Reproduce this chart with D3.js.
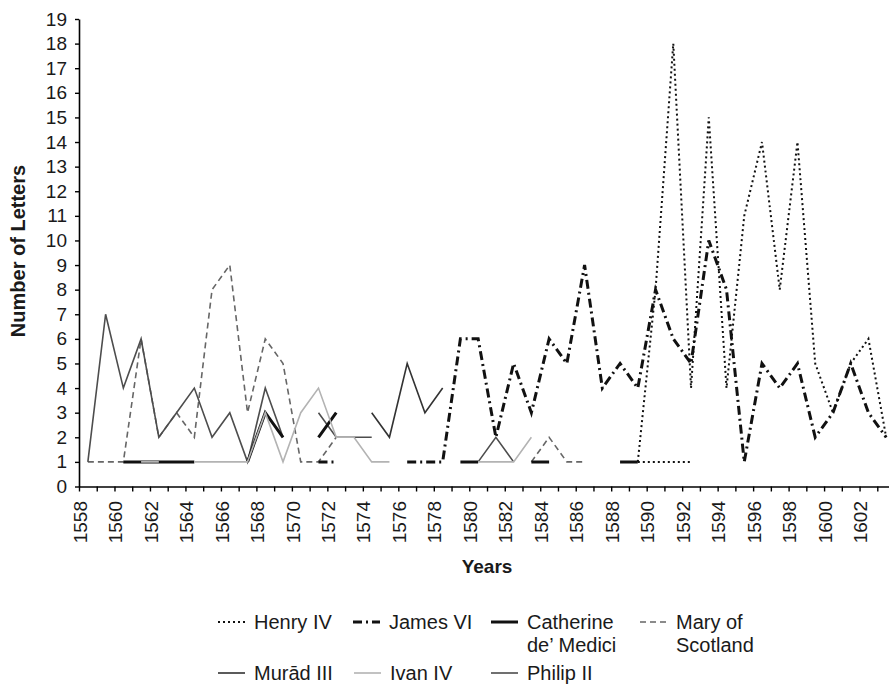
<!DOCTYPE html>
<html>
<head>
<meta charset="utf-8">
<script src="https://cdn.jsdelivr.net/npm/d3@7"></script>
<style>
  body { margin: 0; background: #fff; }
  text { font-family: "Liberation Sans", Arial, sans-serif; fill: #1a1a1a; }
</style>
</head>
<body>
<svg width="889" height="691"></svg>
<script>
const _ = null;

const years = [
  1558, 1559, 1560, 1561, 1562, 1563, 1564, 1565, 1566, 1567,
  1568, 1569, 1570, 1571, 1572, 1573, 1574, 1575, 1576, 1577,
  1578, 1579, 1580, 1581, 1582, 1583, 1584, 1585, 1586, 1587,
  1588, 1589, 1590, 1591, 1592, 1593, 1594, 1595, 1596, 1597,
  1598, 1599, 1600, 1601, 1602, 1603
];
const xTickLabels = [
  1558, 1560, 1562, 1564, 1566, 1568, 1570, 1572, 1574, 1576, 1578, 1580,
  1582, 1584, 1586, 1588, 1590, 1592, 1594, 1596, 1598, 1600, 1602
];
const yTicks = [0, 1, 2, 3, 4, 5, 6, 7, 8, 9, 10, 11, 12, 13, 14, 15, 16, 17, 18, 19];

// one value per year, 1558 .. 1603
const henryIV = [
  _, _, _, _, _, _, _, _, _, _,
  _, _, _, _, _, _, _, _, _, _,
  _, _, _, _, _, _, _, _, _, _,
  _, 1, 8, 18, 4, 15, 4, 11, 14, 8,
  14, 5, 3, 5, 6, 2
];
const henryIVLow = [
  _, _, _, _, _, _, _, _, _, _,
  _, _, _, _, _, _, _, _, _, _,
  _, _, _, _, _, _, _, _, _, _,
  _, 1, 1, 1, 1, _, _, _, _, _,
  _, _, _, _, _, _
];
const jamesVI = [
  _, _, _, _, _, _, _, _, _, _,
  _, _, _, 1, 1, _, _, _, 1, 1,
  1, 6, 6, 2, 5, 3, 6, 5, 9, 4,
  5, 4, 8, 6, 5, 10, 8, 1, 5, 4,
  5, 2, 3, 5, 3, 2
];
const catherine = [
  _, _, 1, 1, 1, 1, 1, _, _, 1,
  3, 2, _, 2, 3, _, _, _, _, _,
  _, 1, 1, _, _, 1, 1, _, _, _,
  1, 1, _, _, _, _, _, _, _, _,
  _, _, _, _, _, _
];
const maryOfScotland = [
  1, 1, 1, 6, 2, 3, 2, 8, 9, 3,
  6, 5, 1, 1, 2, _, _, _, _, _,
  _, _, _, _, _, 1, 2, 1, 1, _,
  _, _, _, _, _, _, _, _, _, _,
  _, _, _, _, _, _
];
const muradIII = [
  _, _, _, _, _, _, _, _, _, _,
  _, _, _, _, _, _, 3, 2, 5, 3,
  4, _, _, _, _, _, _, _, _, _,
  _, _, _, _, _, _, _, _, _, _,
  _, _, _, _, _, _
];
const ivanIV = [
  _, _, _, 1, 1, _, 1, 1, 1, 1,
  3, 1, 3, 4, 2, 2, 1, 1, _, _,
  _, _, 1, 1, 1, 2, _, _, _, _,
  _, _, _, _, _, _, _, _, _, _,
  _, _, _, _, _, _
];
const philipII = [
  1, 7, 4, 6, 2, 3, 4, 2, 3, 1,
  4, 2, _, 3, 2, 2, 2, _, _, _,
  _, _, 1, 2, 1, _, _, _, _, _,
  _, _, _, _, _, _, _, _, _, _,
  _, _, _, _, _, _
];

const styles = {
  henry: { color: "#111", width: 2, dash: "2,3" },
  james: { color: "#111", width: 3, dash: "9,4,2,4" },
  catherine: { color: "#111", width: 3, dash: null },
  mary: { color: "#666", width: 1.6, dash: "6,4" },
  murad: { color: "#333", width: 1.6, dash: null },
  ivan: { color: "#b3b3b3", width: 1.6, dash: null },
  philip: { color: "#4d4d4d", width: 1.6, dash: null }
};

// drawing order, bottom to top
const series = [
  { data: maryOfScotland, style: styles.mary },
  { data: philipII, style: styles.philip },
  { data: muradIII, style: styles.murad },
  { data: catherine, style: styles.catherine },
  { data: ivanIV, style: styles.ivan },
  { data: jamesVI, style: styles.james },
  { data: henryIVLow, style: styles.henry },
  { data: henryIV, style: styles.henry }
];

const svg = d3.select("svg");
const plotLeft = 79;
const plotTop = 19;
const plotBottom = 486.5;
const step = 17.74;

const x = d3.scaleLinear()
  .domain([years[0], years[years.length - 1] + 1])
  .range([plotLeft, plotLeft + step * years.length]);
const y = d3.scaleLinear().domain([0, 19]).range([plotBottom, plotTop]);

svg.append("rect").attr("width", 889).attr("height", 691).attr("fill", "#fff");

const line = d3.line()
  .defined(d => d != null)
  .x((d, i) => x(years[i] + 0.5))
  .y(d => y(d));

svg.append("g")
  .selectAll("path")
  .data(series)
  .join("path")
  .attr("d", s => line(s.data))
  .attr("fill", "none")
  .attr("stroke", s => s.style.color)
  .attr("stroke-width", s => s.style.width)
  .attr("stroke-dasharray", s => s.style.dash)
  .attr("stroke-linejoin", "miter");

// axes
const yAxis = svg.append("g")
  .attr("transform", `translate(${plotLeft},0)`)
  .call(d3.axisLeft(y).tickValues(yTicks).tickSize(4).tickPadding(8).tickSizeOuter(0));
yAxis.selectAll("text").style("font-size", "19px");

svg.append("g")
  .attr("transform", `translate(0,${plotBottom})`)
  .call(d3.axisBottom(x)
    .tickValues(years.concat([years[years.length - 1] + 1]))
    .tickSize(5)
    .tickFormat("")
    .tickSizeOuter(0));

svg.selectAll(".domain").attr("stroke", "#000").attr("stroke-width", 1.6);
svg.selectAll(".tick line").attr("stroke", "#000").attr("stroke-width", 1.4);

svg.append("g")
  .selectAll("text")
  .data(xTickLabels)
  .join("text")
  .attr("transform", d => `translate(${x(d) + 1},501) rotate(-90)`)
  .attr("text-anchor", "end")
  .attr("dy", "0.35em")
  .style("font-size", "19px")
  .text(d => d);

svg.append("text")
  .attr("transform", "translate(18,251) rotate(-90)")
  .attr("text-anchor", "middle")
  .attr("dy", "0.35em")
  .style("font-size", "20px")
  .style("font-weight", "bold")
  .text("Number of Letters");

svg.append("text")
  .attr("x", 487)
  .attr("y", 573)
  .attr("text-anchor", "middle")
  .style("font-size", "19px")
  .style("font-weight", "bold")
  .text("Years");

// legend
const legendItems = [
  { lines: ["Henry IV"], style: styles.henry, x: 218, y: 622 },
  { lines: ["James VI"], style: styles.james, x: 353, y: 622 },
  { lines: ["Catherine", "de\u2019 Medici"], style: styles.catherine, x: 491, y: 622 },
  { lines: ["Mary of", "Scotland"], style: styles.mary, x: 640, y: 622 },
  { lines: ["Mur\u0101d III"], style: styles.murad, x: 218, y: 673 },
  { lines: ["Ivan IV"], style: styles.ivan, x: 354, y: 673 },
  { lines: ["Philip II"], style: styles.philip, x: 491, y: 673 }
];

const legend = svg.append("g")
  .selectAll("g")
  .data(legendItems)
  .join("g")
  .attr("transform", d => `translate(${d.x},${d.y})`);

legend.append("line")
  .attr("x1", 0)
  .attr("x2", 27)
  .attr("stroke", d => d.style.color)
  .attr("stroke-width", d => d.style.width)
  .attr("stroke-dasharray", d => d.style.dash);

legend.append("text")
  .style("font-size", "20px")
  .selectAll("tspan")
  .data(d => d.lines)
  .join("tspan")
  .attr("x", 36)
  .attr("dy", (d, i) => i === 0 ? "0.35em" : "1.15em")
  .text(d => d);
</script>
</body>
</html>
